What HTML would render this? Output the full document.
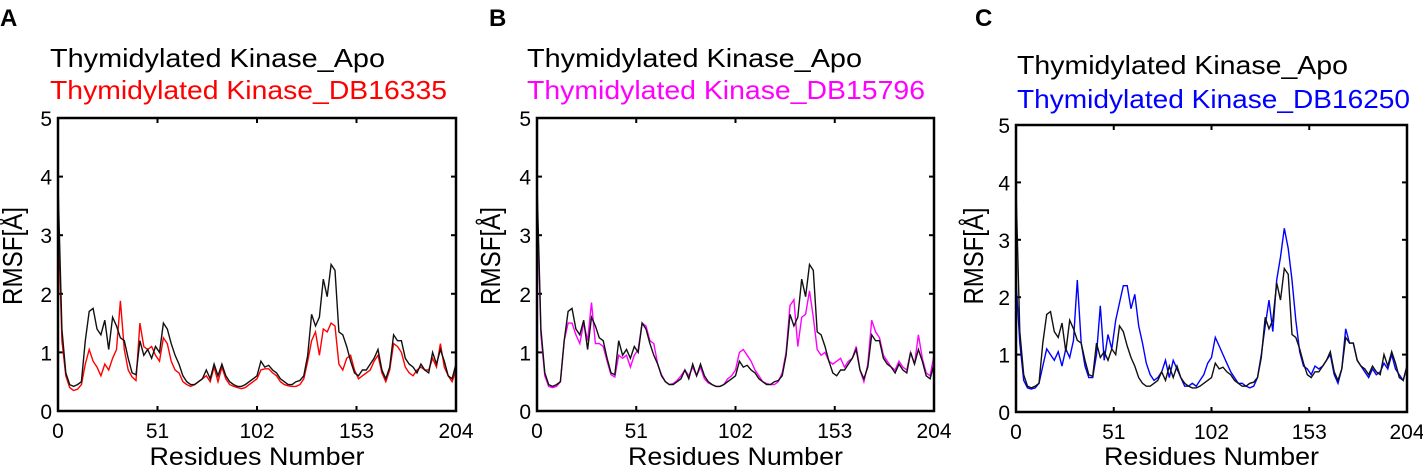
<!DOCTYPE html>
<html><head><meta charset="utf-8"><style>
html,body{margin:0;padding:0;background:#fff;}
svg{display:block;font-family:"Liberation Sans",sans-serif;}
</style></head><body>
<svg id="fig" width="1423" height="470" viewBox="0 0 1423 470"></svg>
<script>
const residueTicks = [0, 51, 102, 153, 204];
const rmsfTicks = [0, 1, 2, 3, 4, 5];
const apoValues = [3.9,1.4,0.65,0.45,0.42,0.45,0.5,1.2,1.7,1.75,1.4,1.3,1.55,1.05,1.6,1.45,1.25,1.2,0.9,0.65,0.62,1.2,0.95,1.05,0.9,1.1,1.0,1.5,1.4,1.15,0.95,0.8,0.6,0.5,0.45,0.45,0.5,0.55,0.7,0.55,0.8,0.6,0.8,0.6,0.5,0.45,0.42,0.42,0.45,0.5,0.55,0.6,0.85,0.75,0.78,0.7,0.65,0.55,0.5,0.45,0.45,0.5,0.52,0.6,0.95,1.65,1.45,1.6,2.25,1.95,2.5,2.4,1.35,1.3,1.1,0.85,0.65,0.6,0.7,0.7,0.8,0.9,1.05,0.7,0.55,0.75,1.3,1.2,1.2,0.9,0.8,0.75,0.65,0.8,0.7,0.65,1.0,0.8,1.05,0.85,0.6,0.55,0.8];
const db16335Values = [3.4,1.2,0.6,0.4,0.35,0.37,0.45,0.8,1.05,0.85,0.75,0.6,0.8,0.7,0.9,1.05,1.88,1.05,0.7,0.58,0.52,1.5,1.1,1.05,1.1,0.95,0.85,1.25,1.15,0.85,0.7,0.65,0.5,0.45,0.42,0.45,0.5,0.55,0.6,0.5,0.75,0.5,0.75,0.55,0.45,0.42,0.4,0.38,0.4,0.45,0.5,0.55,0.7,0.72,0.72,0.65,0.6,0.5,0.45,0.43,0.42,0.42,0.45,0.55,0.85,1.2,1.35,0.95,1.4,1.35,1.5,1.45,0.8,0.7,0.9,0.95,0.7,0.55,0.6,0.65,0.7,0.85,0.95,0.65,0.5,0.7,1.15,1.1,1.0,0.75,0.65,0.6,0.7,0.75,0.7,0.7,0.9,0.75,1.15,0.75,0.6,0.5,0.7];
const db15796Values = [3.7,1.3,0.6,0.42,0.4,0.42,0.5,1.2,1.5,1.5,1.3,1.15,1.5,1.2,1.85,1.15,1.15,1.1,0.85,0.62,0.58,0.95,0.9,0.95,0.75,0.95,1.05,1.5,1.45,1.2,1.15,0.8,0.62,0.5,0.45,0.47,0.52,0.6,0.7,0.6,0.75,0.6,0.75,0.55,0.48,0.45,0.42,0.42,0.45,0.55,0.6,0.7,1.0,1.05,0.95,0.85,0.7,0.6,0.5,0.47,0.45,0.45,0.5,0.65,1.0,1.8,1.9,1.1,1.6,1.65,2.05,1.6,1.05,0.95,1.0,0.85,0.8,0.85,0.9,0.75,0.85,0.9,1.1,0.7,0.5,0.8,1.55,1.35,1.25,0.95,0.85,0.75,0.7,0.85,0.75,0.7,1.0,0.8,1.3,0.9,0.65,0.6,0.95];
const db16250Values = [2.3,1.2,0.55,0.42,0.4,0.42,0.5,0.8,1.1,1.0,0.9,1.05,0.8,1.1,0.95,1.25,2.3,1.2,0.8,0.6,0.6,1.0,1.85,0.9,1.35,1.1,1.6,1.9,2.2,2.2,1.8,2.05,1.5,1.2,0.85,0.65,0.55,0.6,0.7,0.9,0.6,0.9,0.75,0.6,0.45,0.45,0.5,0.45,0.55,0.65,0.85,0.95,1.3,1.15,1.0,0.85,0.7,0.6,0.5,0.5,0.45,0.42,0.45,0.6,1.0,1.5,1.95,1.4,2.3,2.7,3.2,2.85,2.3,1.6,1.05,0.8,0.75,0.65,0.8,0.75,0.8,0.9,1.0,0.65,0.5,0.75,1.45,1.2,1.2,0.9,0.8,0.7,0.6,0.75,0.65,0.7,0.85,0.75,1.0,0.75,0.65,0.55,0.8];
const residues = apoValues.map((v, i) => i * 2);

const NS = "http://www.w3.org/2000/svg";
const svg = document.getElementById('fig');
function mk(tag, attrs, parent) {
  const el = document.createElementNS(NS, tag);
  for (const k in attrs) el.setAttribute(k, attrs[k]);
  (parent || svg).appendChild(el);
  return el;
}
const panels = [
  {id:'a', letter:'A', lx:0, L:58, R:456, T:118, B:411, leg:[50,67,99], w1:335, w2:397, color:'#ff0000', name:'Thymidylated Kinase_DB16335', vals:db16335Values, ylx:22, ylw:98},
  {id:'b', letter:'B', lx:489, L:537, R:934, T:118, B:411, leg:[527,67,99], w1:335, w2:398, color:'#ff00ff', name:'Thymidylated Kinase_DB15796', vals:db15796Values, ylx:500, ylw:98},
  {id:'c', letter:'C', lx:975, L:1016, R:1407, T:125, B:412, leg:[1017,74,108], w1:331, w2:393, color:'#0000ff', name:'Thymidylated Kinase_DB16250', vals:db16250Values, ylx:983, ylw:97}
];
panels.forEach(p => {
  const g = mk('g', {});
  
  
  const xs = r => p.L + (r / 204) * (p.R - p.L);
  const ys = v => p.B - (v / 5) * (p.B - p.T);
  const lt = mk('text', {x:p.lx, y:26, 'font-size':24, 'font-weight':'bold', fill:'#000'}, g);
  lt.textContent = p.letter;
  
  
  const t1 = mk('text', {x:p.leg[0], y:p.leg[1], 'font-size':26, fill:'#000', textLength:p.w1, lengthAdjust:'spacingAndGlyphs'}, g);
  t1.textContent = 'Thymidylated Kinase_Apo';
  
  
  const t2 = mk('text', {x:p.leg[0], y:p.leg[2], 'font-size':26, fill:p.color, textLength:p.w2, lengthAdjust:'spacingAndGlyphs'}, g);
  t2.textContent = p.name;
  
  
  // ticks
  residueTicks.forEach(t => {
    const x = xs(t);
    mk('line', {x1:x, x2:x, y1:p.B, y2:p.B-5, stroke:'#000', 'stroke-width':2}, g);
    mk('line', {x1:x, x2:x, y1:p.T, y2:p.T+5, stroke:'#000', 'stroke-width':2}, g);
    const tl = mk('text', {x:x, y:p.B+27, 'font-size':21, 'text-anchor':'middle', fill:'#000'}, g);
    tl.textContent = String(t);
    
    
  });
  rmsfTicks.forEach(t => {
    const y = ys(t);
    mk('line', {x1:p.L, x2:p.L+5, y1:y, y2:y, stroke:'#000', 'stroke-width':2}, g);
    mk('line', {x1:p.R, x2:p.R-5, y1:y, y2:y, stroke:'#000', 'stroke-width':2}, g);
    const tl = mk('text', {x:p.L-6, y:y+8, 'font-size':21, 'text-anchor':'end', fill:'#000'}, g);
    tl.textContent = String(t);
    
    
  });
  const xl = mk('text', {x:(p.L+p.R)/2, y:465, 'font-size':25, 'text-anchor':'middle', fill:'#000', textLength:215, lengthAdjust:'spacingAndGlyphs'}, g);
  xl.textContent = 'Residues Number';
  
  
  const yc = 266;
  const yl = mk('text', {x:p.ylx+10, y:yc, 'font-size':28, 'text-anchor':'middle', fill:'#000', transform:`rotate(-90 ${p.ylx} ${yc})`, textLength:p.ylw, lengthAdjust:'spacingAndGlyphs'}, g);
  yl.textContent = 'RMSF[Å]';
  
  
  // series
  const ligPts = residues.map((r, i) => xs(r).toFixed(1) + ',' + ys(p.vals[i]).toFixed(1)).join(' ');
  const apoPts = residues.map((r, i) => xs(r).toFixed(1) + ',' + ys(apoValues[i]).toFixed(1)).join(' ');
  const lig = mk('polyline', {points:ligPts, fill:'none', stroke:p.color, 'stroke-width':1.4}, g);
  
  
  const apo = mk('polyline', {points:apoPts, fill:'none', stroke:'#111', 'stroke-width':1.4}, g);
  
  
  const box = mk('rect', {x:p.L, y:p.T, width:p.R-p.L, height:p.B-p.T, fill:'none', stroke:'#000', 'stroke-width':2.5}, g);
  
  
});
</script>
</body></html>
